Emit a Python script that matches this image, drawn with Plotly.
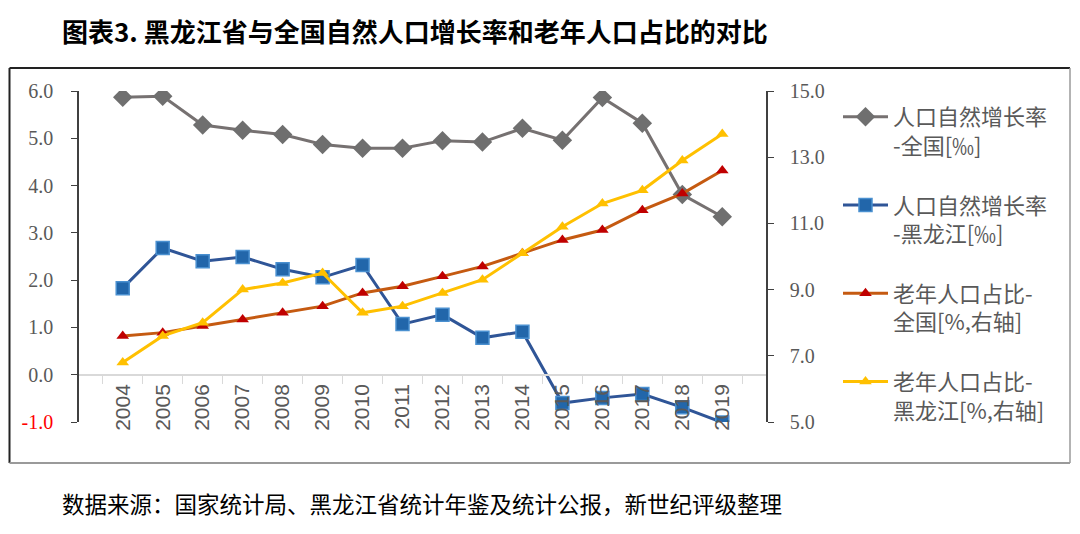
import plotly.graph_objects as go

years = ["2004", "2005", "2006", "2007", "2008", "2009", "2010", "2011",
         "2012", "2013", "2014", "2015", "2016", "2017", "2018", "2019"]
growth_national = [5.87, 5.89, 5.28, 5.17, 5.08, 4.87, 4.79, 4.79,
                   4.95, 4.92, 5.21, 4.96, 5.86, 5.32, 3.81, 3.34]
growth_hlj = [1.83, 2.68, 2.40, 2.49, 2.23, 2.06, 2.32, 1.07,
              1.27, 0.78, 0.91, -0.60, -0.49, -0.41, -0.69, -1.01]
elderly_national = [7.6, 7.7, 7.9, 8.1, 8.3, 8.5, 8.9, 9.1,
                    9.4, 9.7, 10.1, 10.5, 10.8, 11.4, 11.9, 12.6]
elderly_hlj = [6.8, 7.6, 8.0, 9.0, 9.2, 9.5, 8.3, 8.5,
               8.9, 9.3, 10.1, 10.9, 11.6, 12.0, 12.9, 13.7]

left_ticks = [-1, 0, 1, 2, 3, 4, 5, 6]
left_ticktext = ["<span style='color:#ff0000'>-1.0</span>", "0.0", "1.0", "2.0",
                 "3.0", "4.0", "5.0", "6.0"]
right_ticks = [5, 7, 9, 11, 13, 15]

names = ["人口自然增长率<br>-全国[‰]", "人口自然增长率<br>-黑龙江[‰]",
         "老年人口占比-<br>全国[%,右轴]", "老年人口占比-<br>黑龙江[%,右轴]"]
title_text = "图表3. 黑龙江省与全国自然人口增长率和老年人口占比的对比"
source_text = "数据来源：国家统计局、黑龙江省统计年鉴及统计公报，新世纪评级整理"

OFF = 8  # page body margin
W, H = 1080 - 2 * OFF, 534 - 2 * OFF
L, R, T, B = 79 - OFF, 766 - OFF, 91 - OFF, 422 - OFF


def px(x):
    return (x - OFF - L) / (R - L)


def py(y):
    return (B - (y - OFF)) / (B - T)


fig = go.Figure()
fig.add_trace(go.Scatter(x=years, y=growth_national, name=names[0], mode="lines+markers",
                         line=dict(color="#767171", width=3),
                         marker=dict(symbol="diamond", size=15, color="#6f6f6f"),
                         legendgroup="a"))
fig.add_trace(go.Scatter(x=years, y=growth_hlj, name=names[1], mode="lines+markers",
                         line=dict(color="#2f5597", width=3),
                         marker=dict(symbol="square", size=13, color="#2266aa",
                                     line=dict(color="#4a90d0", width=1.5)),
                         legendgroup="b"))
fig.add_trace(go.Scatter(x=years, y=elderly_national, name=names[2], mode="lines+markers",
                         line=dict(color="#c55a11", width=3),
                         marker=dict(symbol="triangle-up", size=11, color="#c00000"),
                         yaxis="y2", legendgroup="c"))
fig.add_trace(go.Scatter(x=years, y=elderly_hlj, name=names[3], mode="lines+markers",
                         line=dict(color="#ffc000", width=3),
                         marker=dict(symbol="triangle-up", size=11, color="#ffc000"),
                         yaxis="y2", legendgroup="d"))

tick_font = dict(family="Liberation Serif", size=20, color="#595959")

fig.update_layout(
    width=W, height=H,
    margin=dict(l=L, r=W - R, t=T, b=H - B, autoexpand=False),
    paper_bgcolor="white", plot_bgcolor="white",
    showlegend=True,
    legend=dict(x=px(838), y=py(96), xanchor="left", yanchor="top",
                font=dict(family="Noto Sans CJK SC", size=22, color="#595959"),
                itemwidth=45, maxheight=480,
                tracegroupgap=28, valign="top", bgcolor="rgba(0,0,0,0)"),
    xaxis=dict(type="category", anchor="free", position=py(375),
               showline=True, linecolor="#d9d9d9", linewidth=1.5,
               ticks="outside", tickson="boundaries", ticklen=8, tickcolor="#d9d9d9",
               tickangle=-90, showgrid=False, zeroline=False,
               tickfont=dict(family="Liberation Sans", size=21, color="#595959")),
    yaxis=dict(range=[-1, 6], tickvals=left_ticks, ticktext=left_ticktext,
               showline=True, linecolor="#404040", linewidth=1.5,
               ticks="outside", ticklen=6, tickcolor="#404040",
               showgrid=False, zeroline=False, tickfont=tick_font,
               ticklabelstandoff=14),
    yaxis2=dict(range=[5, 15], tickvals=right_ticks, tickformat=".1f",
                overlaying="y", side="right",
                showline=True, linecolor="#404040", linewidth=1.5,
                ticks="outside", ticklen=6, tickcolor="#404040",
                showgrid=False, zeroline=False, tickfont=tick_font,
                ticklabelstandoff=12),
)

fig.add_annotation(text="<b>" + title_text + "</b>", xref="paper", yref="paper",
                   x=px(60), y=py(30), xanchor="left", yanchor="middle", showarrow=False,
                   font=dict(family="Noto Sans CJK SC", size=26, color="#000000"))
fig.add_annotation(text=source_text, xref="paper", yref="paper",
                   x=px(60), y=py(503), xanchor="left", yanchor="middle", showarrow=False,
                   font=dict(family="Noto Sans CJK SC", size=22.5, color="#000000"))

# frame around chart
FL, FR, FT, FB = 9.5, 1070, 68, 463
fig.add_shape(type="line", xref="paper", yref="paper", x0=px(FL), x1=px(FR),
              y0=py(FT), y1=py(FT), line=dict(color="#222222", width=2))
fig.add_shape(type="line", xref="paper", yref="paper", x0=px(FL), x1=px(FL),
              y0=py(FT), y1=py(FB), line=dict(color="#222222", width=2))
fig.add_shape(type="line", xref="paper", yref="paper", x0=px(FR), x1=px(FR),
              y0=py(FT), y1=py(FB), line=dict(color="#9a9a9a", width=1.5))
fig.add_shape(type="line", xref="paper", yref="paper", x0=px(FL), x1=px(FR),
              y0=py(FB), y1=py(FB), line=dict(color="#9a9a9a", width=2))

fig.write_html("out.html")
